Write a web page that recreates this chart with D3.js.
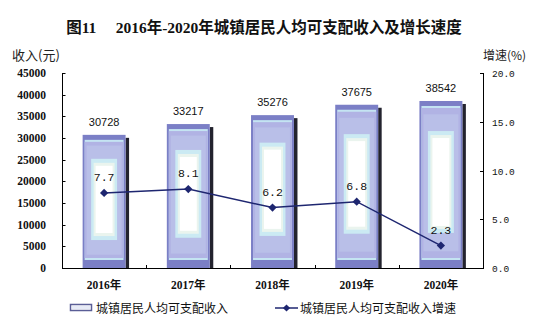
<!DOCTYPE html>
<html>
<head>
<meta charset="utf-8">
<script src="https://cdn.jsdelivr.net/npm/d3@7"></script>
<style>
  html, body { margin: 0; padding: 0; background: #ffffff; }
  svg { display: block; }
</style>
</head>
<body>
<svg id="chart" width="536" height="324"></svg>
<script>
// Urban per-capita disposable income and its growth rate, 2016-2020
const years = ["2016年", "2017年", "2018年", "2019年", "2020年"];
const income = [30728, 33217, 35276, 37675, 38542];
const growth = [7.7, 8.1, 6.2, 6.8, 2.3];
const incomeTicks = [0, 5000, 10000, 15000, 20000, 25000, 30000, 35000, 40000, 45000];
const growthTicks = [0, 5, 10, 15, 20];

const titleText = "图11\u3000 2016年-2020年城镇居民人均可支配收入及增长速度";
const leftUnit = "收入(元)";
const rightUnit = "增速(%)";
const legendBar = "城镇居民人均可支配收入";
const legendLine = "城镇居民人均可支配收入增速";

const svg = d3.select("#chart");
const plot = { left: 62, right: 483, top: 73, bottom: 268 };

const serif = "'Liberation Serif', 'DejaVu Serif', serif";
const cjk = "'Noto Sans CJK SC', 'Noto Sans', sans-serif";
const mono = "'Liberation Mono', 'DejaVu Sans Mono', monospace";
const lineColor = "#1e2670";

const x = d3.scaleBand()
  .domain(years)
  .range([plot.left, plot.right])
  .paddingInner(0.49)
  .paddingOuter(0.245);
const step = x.step();

const yL = d3.scaleLinear().domain([0, 45000]).range([plot.bottom, plot.top]);
const yR = d3.scaleLinear().domain([0, 20]).range([plot.bottom, plot.top]);

// Title
svg.append("text")
  .attr("x", 264).attr("y", 33)
  .attr("text-anchor", "middle")
  .style("font-family", `'Liberation Serif', ${cjk}`)
  .style("font-weight", "bold")
  .style("font-size", "15.5px")
  .attr("fill", "#111")
  .text(titleText);

// Axis unit labels
svg.append("text").attr("x", 12).attr("y", 60)
  .style("font-family", cjk).style("font-size", "13px").attr("fill", "#222")
  .text(leftUnit);
svg.append("text").attr("x", 483).attr("y", 60)
  .style("font-family", cjk).style("font-size", "12px").attr("fill", "#222")
  .text(rightUnit);

// Bars: layered "pillow" fill with a dark drop shadow on the right
const bars = svg.append("g").selectAll("g").data(income).join("g");
bars.each(function (v, i) {
  const g = d3.select(this);
  const x0 = x(years[i]);
  const w = x.bandwidth();
  const y0 = yL(v);
  const yb = yL(0);
  const h = yb - y0;
  // shadow
  g.append("rect").attr("x", x0 + w).attr("y", y0 + 3).attr("width", 3.5).attr("height", h - 3)
    .attr("fill", "#23232e");
  // outer frame
  g.append("rect").attr("x", x0).attr("y", y0).attr("width", w).attr("height", h)
    .attr("fill", "#7b7fc6");
  // lavender body with light edges
  g.append("rect").attr("x", x0 + 2).attr("y", y0 + 5).attr("width", w - 4).attr("height", h - 13)
    .attr("fill", "#c4e4f2");
  g.append("rect").attr("x", x0 + 2).attr("y", y0 + 7).attr("width", w - 4).attr("height", h - 17)
    .attr("fill", "#b1b3e4");
  g.append("rect").attr("x", x0 + 4).attr("y", y0 + 0.08 * h).attr("width", w - 8).attr("height", h * 0.82)
    .attr("fill", "#b9bfe8");
  // glow
  const gt = y0 + 0.18 * h, gb = yb - 0.21 * h;
  g.append("rect").attr("x", x0 + 8.5).attr("y", gt).attr("width", w - 17).attr("height", gb - gt)
    .attr("fill", "#cbeaf3");
  g.append("rect").attr("x", x0 + 11).attr("y", gt + 4).attr("width", w - 22).attr("height", gb - gt - 8)
    .attr("fill", "#eaf4ee");
  g.append("rect").attr("x", x0 + 13).attr("y", gt + 7).attr("width", w - 26).attr("height", gb - gt - 14)
    .attr("fill", "#ffffff");
});

// Bar value labels
svg.append("g").selectAll("text").data(income).join("text")
  .attr("x", (d, i) => x(years[i]) + x.bandwidth() / 2)
  .attr("y", d => yL(d) - 9)
  .attr("text-anchor", "middle")
  .style("font-family", "'Liberation Sans', Arial, sans-serif")
  .style("font-size", "11px")
  .attr("fill", "#111")
  .text(d => d);

// Axes
const axisG = svg.append("g").attr("stroke", "#000").attr("stroke-width", 1);
axisG.append("line").attr("x1", plot.left + 0.5).attr("x2", plot.left + 0.5)
  .attr("y1", plot.top).attr("y2", plot.bottom + 0.5);
axisG.append("line").attr("x1", plot.right + 0.5).attr("x2", plot.right + 0.5)
  .attr("y1", plot.top).attr("y2", plot.bottom + 0.5);
axisG.append("line").attr("x1", plot.left).attr("x2", plot.right + 1)
  .attr("y1", plot.bottom + 0.5).attr("y2", plot.bottom + 0.5);

// Left ticks and labels
axisG.selectAll(".tl").data(incomeTicks).join("line")
  .attr("x1", plot.left).attr("x2", plot.left + 3.5)
  .attr("y1", d => Math.round(yL(d)) + 0.5).attr("y2", d => Math.round(yL(d)) + 0.5);
svg.append("g").selectAll("text").data(incomeTicks).join("text")
  .attr("x", 46).attr("y", d => yL(d) + 4)
  .attr("text-anchor", "end")
  .style("font-family", serif).style("font-weight", "bold").style("font-size", "11.5px")
  .attr("fill", "#111")
  .text(d => d);

// Right ticks and labels
axisG.selectAll(".tr").data(growthTicks).join("line")
  .attr("x1", plot.right - 3).attr("x2", plot.right + 0.5)
  .attr("y1", d => Math.round(yR(d)) + 0.5).attr("y2", d => Math.round(yR(d)) + 0.5);
svg.append("g").selectAll("text").data(growthTicks).join("text")
  .attr("x", 492).attr("y", d => yR(d) + 4)
  .style("font-family", mono).style("font-size", "9.5px")
  .attr("fill", "#111")
  .text(d => d3.format(".1f")(d));

// Category boundary ticks on the bottom axis
const bounds = d3.range(1, years.length).map(k => plot.left + k * step);
axisG.selectAll(".tb").data(bounds).join("line")
  .attr("x1", d => Math.round(d) + 0.5).attr("x2", d => Math.round(d) + 0.5)
  .attr("y1", plot.bottom - 3).attr("y2", plot.bottom);

// Category labels
svg.append("g").selectAll("text").data(years).join("text")
  .attr("x", d => x(d) + x.bandwidth() / 2).attr("y", 289)
  .attr("text-anchor", "middle")
  .style("font-family", `'Liberation Serif', ${cjk}`)
  .style("font-weight", "bold").style("font-size", "11.5px")
  .attr("fill", "#111")
  .text(d => d);

// Growth line with diamond markers
const cx = (d, i) => x(years[i]) + x.bandwidth() / 2;
const line = d3.line().x(cx).y(d => yR(d));
svg.append("path").datum(growth)
  .attr("d", line).attr("fill", "none")
  .attr("stroke", lineColor).attr("stroke-width", 1.5);
svg.append("g").selectAll("path").data(growth).join("path")
  .attr("transform", (d, i) => `translate(${cx(d, i)},${yR(d)}) rotate(45)`)
  .attr("d", d3.symbol().type(d3.symbolSquare).size(34))
  .attr("fill", lineColor);

// Growth labels
svg.append("g").selectAll("text").data(growth).join("text")
  .attr("x", cx).attr("y", d => yR(d) - 12)
  .attr("text-anchor", "middle")
  .style("font-family", mono).style("font-size", "11.5px")
  .attr("fill", "#111")
  .text(d => d3.format(".1f")(d));

// Legend
const lg = svg.append("g");
lg.append("rect").attr("x", 70.5).attr("y", 304.5).attr("width", 21).attr("height", 6)
  .attr("fill", "#ffffff").attr("stroke", "#5a5e96").attr("stroke-width", 1.5);
lg.append("rect").attr("x", 72).attr("y", 306).attr("width", 18).attr("height", 3)
  .attr("fill", "#e6eaf6");
lg.append("text").attr("x", 96).attr("y", 313)
  .style("font-family", cjk).style("font-size", "12px").attr("fill", "#111")
  .text(legendBar);
lg.append("line").attr("x1", 275).attr("x2", 298).attr("y1", 308).attr("y2", 308)
  .attr("stroke", lineColor).attr("stroke-width", 1.5);
lg.append("path").attr("transform", "translate(286.5,308) rotate(45)")
  .attr("d", d3.symbol().type(d3.symbolSquare).size(26))
  .attr("fill", lineColor);
lg.append("text").attr("x", 300).attr("y", 313)
  .style("font-family", cjk).style("font-size", "12px").attr("fill", "#111")
  .text(legendLine);
</script>
</body>
</html>
